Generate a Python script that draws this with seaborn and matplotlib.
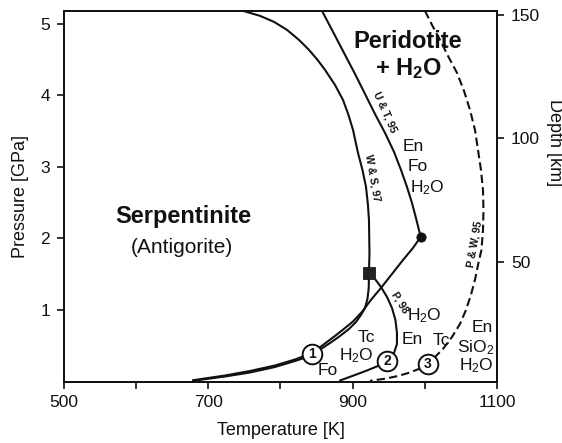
import matplotlib
matplotlib.use("Agg")
import matplotlib.pyplot as plt
import seaborn as sns

# ---------------- data ----------------
# W & S, 97 (top edge -> invariant square -> low-T end)
ws97_T = [748.0, 771.6, 791.0, 809.0, 825.6, 839.5, 851.3, 861.7, 875.5, 886.6,
          894.2, 900.5, 907.4, 913.6, 918.5, 921.2, 922.6, 923.3, 922.6,
          922.3, 920.5, 917.1, 911.5, 904.6, 894.9, 882.4, 868.6, 856.1, 843.6,
          820.1, 792.4, 757.7, 723.1, 678.7]
ws97_P = [5.182, 5.112, 5.028, 4.916, 4.776, 4.636, 4.497, 4.357, 4.147, 3.937,
          3.727, 3.517, 3.196, 2.958, 2.720, 2.469, 2.259, 1.797, 1.517,
          1.308, 1.154, 1.028, 0.930, 0.832, 0.734, 0.636, 0.538, 0.455, 0.364,
          0.287, 0.203, 0.126, 0.070, 0.010]

# U & T, 95 (top edge -> dot) and the reaction from the dot down to low T
ut95_T = [857.5, 872.8, 888.0, 903.2, 917.1, 930.9, 944.8, 957.3, 967.0, 975.3,
          982.2, 987.7, 994.3,
          983.6, 969.8, 954.5, 939.2, 925.3, 912.8, 900.4, 885.2, 869.9, 856.1,
          843.6, 820.1, 792.4, 757.7, 723.1, 678.7]
ut95_P = [5.182, 4.888, 4.594, 4.301, 4.021, 3.741, 3.476, 3.210, 2.958, 2.720,
          2.497, 2.287, 2.021,
          1.867, 1.699, 1.503, 1.308, 1.140, 0.972, 0.839, 0.713, 0.594, 0.490,
          0.399, 0.308, 0.224, 0.147, 0.084, 0.018]

# P, 98
p98_T = [922.6, 930.9, 939.2, 947.6, 954.5, 959.3, 961.4, 961.4, 957.3, 947.6,
         935.1, 919.8, 903.2, 882.4]
p98_P = [1.517, 1.434, 1.322, 1.182, 1.028, 0.860, 0.678, 0.524, 0.399, 0.287,
         0.217, 0.154, 0.091, 0.014]

# P & W, 95 (dashed)
pw95_T = [1000.2, 1009.9, 1021.0, 1032.1, 1044.6, 1054.3, 1062.6, 1069.5, 1073.7,
          1077.8, 1080.6, 1081.3, 1080.6, 1078.5, 1073.7, 1069.5, 1063.9, 1057.0,
          1048.7, 1037.6, 1025.2, 1011.3, 1004.4, 993.3, 979.4, 962.8, 944.8, 924.0]
pw95_P = [5.182, 4.986, 4.776, 4.552, 4.315, 4.063, 3.797, 3.517, 3.238,
          2.958, 2.678, 2.399, 2.119, 1.839, 1.629, 1.420, 1.210, 0.999,
          0.804, 0.622, 0.455, 0.315, 0.238, 0.182, 0.126, 0.077, 0.039, 0.010]

circle_T = [843.6, 947.6, 1004.4]
circle_P = [0.385, 0.29, 0.238]
circle_labels = ["1", "2", "3"]

square_T = [922.6]
square_P = [1.517]
dot_T = [994.3]
dot_P = [2.021]

x_ticks = [500, 600, 700, 800, 900, 1000, 1100]
x_ticklabels = ["500", "", "700", "", "900", "", "1100"]
y_ticks = [1, 2, 3, 4, 5]
depth_ticks = [50, 100, 150]

# ---------------- style ----------------
sns.set_theme(style="ticks")
plt.rcParams["font.family"] = ["Liberation Sans", "DejaVu Sans"]
plt.rcParams["mathtext.fontset"] = "custom"
plt.rcParams["mathtext.rm"] = "Liberation Sans"
plt.rcParams["mathtext.bf"] = "Liberation Sans:bold"
plt.rcParams["mathtext.it"] = "Liberation Sans:italic"

fig = plt.figure(figsize=(5.62, 4.43), dpi=100)
ax = fig.add_axes([0.1139, 0.1388, 0.7704, 0.8364])

lw = 1.5
col = "#111111"
for T, P in [(ws97_T, ws97_P), (ut95_T, ut95_P), (p98_T, p98_P)]:
    sns.lineplot(x=T, y=P, sort=False, ax=ax, color=col, lw=lw, estimator=None)
sns.lineplot(x=pw95_T, y=pw95_P, sort=False, ax=ax, color=col, lw=lw, estimator=None)
ax.lines[-1].set_dashes((4, 2))
for ln in ax.lines:
    ln.set_solid_joinstyle("round")
    ln.set_dash_joinstyle("round")

sns.scatterplot(x=circle_T, y=circle_P, ax=ax, s=200, facecolor="white",
                edgecolor=col, linewidth=1.4, zorder=5)
for t, p, lab in zip(circle_T, circle_P, circle_labels):
    ax.text(t, p, lab, ha="center", va="center", fontsize=10, fontweight="bold",
            zorder=6, color=col)
sns.scatterplot(x=square_T, y=square_P, ax=ax, marker="s", s=65, color="#222222",
                edgecolor="#222222", zorder=5)
sns.scatterplot(x=dot_T, y=dot_P, ax=ax, marker="o", s=45, color=col,
                edgecolor=col, zorder=5)

# region labels
ax.text(665, 2.30, "Serpentinite", ha="center", va="center", fontsize=17,
        fontweight="bold", color=col)
ax.text(663.5, 1.88, "(Antigorite)", ha="center", va="center", fontsize=15, color=col)
ax.text(976, 4.75, "Peridotite", ha="center", va="center", fontsize=17,
        fontweight="bold", color=col)
ax.text(977, 4.37, r"+ H$_\mathbf{2}$O", ha="center", va="center", fontsize=17,
        fontweight="bold", color=col)

fs = 12.5
h2o = r"H$_\mathrm{2}$O"
small = [
    (983.6, 3.28, "En"), (990.5, 3.00, "Fo"), (1003, 2.71, h2o),
    (999, 0.916, h2o), (982.2, 0.594, "En"), (1022.4, 0.58, "Tc"),
    (1079.2, 0.76, "En"), (1071, 0.47, r"SiO$_\mathrm{2}$"), (1071, 0.22, h2o),
    (918.5, 0.61, "Tc"), (904.6, 0.357, h2o), (865.8, 0.147, "Fo"),
]
for t, p, s in small:
    ax.text(t, p, s, ha="center", va="center", fontsize=fs, color=col)

# curve labels
curve_labels = [
    (944.8, 3.77, "U & T, 95", -66),
    (927.5, 2.85, "W & S, 97", -80),
    (966.0, 1.10, "P, 98", -58),
    (1069.0, 1.92, "P & W, 95", 80),
]
for t, p, s, r in curve_labels:
    ax.text(t, p, s, ha="center", va="center", fontsize=7.6, fontweight="bold",
            rotation=r, rotation_mode="anchor", color=col)

# axes
ax.set_xlim(500, 1100)
ax.set_ylim(0, 5.18)
ax.set_xticks(x_ticks)
ax.set_xticklabels(x_ticklabels)
ax.set_yticks(y_ticks)
ax.set_xlabel("Temperature [K]", fontsize=13, labelpad=8, color=col)
ax.set_ylabel("Pressure [GPa]", fontsize=13, labelpad=8, color=col)
ax.tick_params(direction="out", length=5, width=1.2, labelsize=12.5, pad=5,
               colors=col)
for sp in ax.spines.values():
    sp.set_visible(True)
    sp.set_linewidth(1.3)
    sp.set_color(col)

ax2 = ax.twinx()
ax2.set_ylim(1.6, 151.6)
ax2.set_yticks(depth_ticks)
ax2.tick_params(direction="out", length=5, width=1.2, labelsize=12.5, pad=5,
                colors=col)
for sp in ax2.spines.values():
    sp.set_linewidth(1.3)
    sp.set_color(col)
ax2.set_ylabel("Depth [km]", fontsize=13, rotation=270, color=col)
ax2.yaxis.label.set_va("center")
ax2.yaxis.label.set_ha("center")
ax2.yaxis.set_label_coords(1.134, 0.646)

fig.savefig("out.png", dpi=100)
